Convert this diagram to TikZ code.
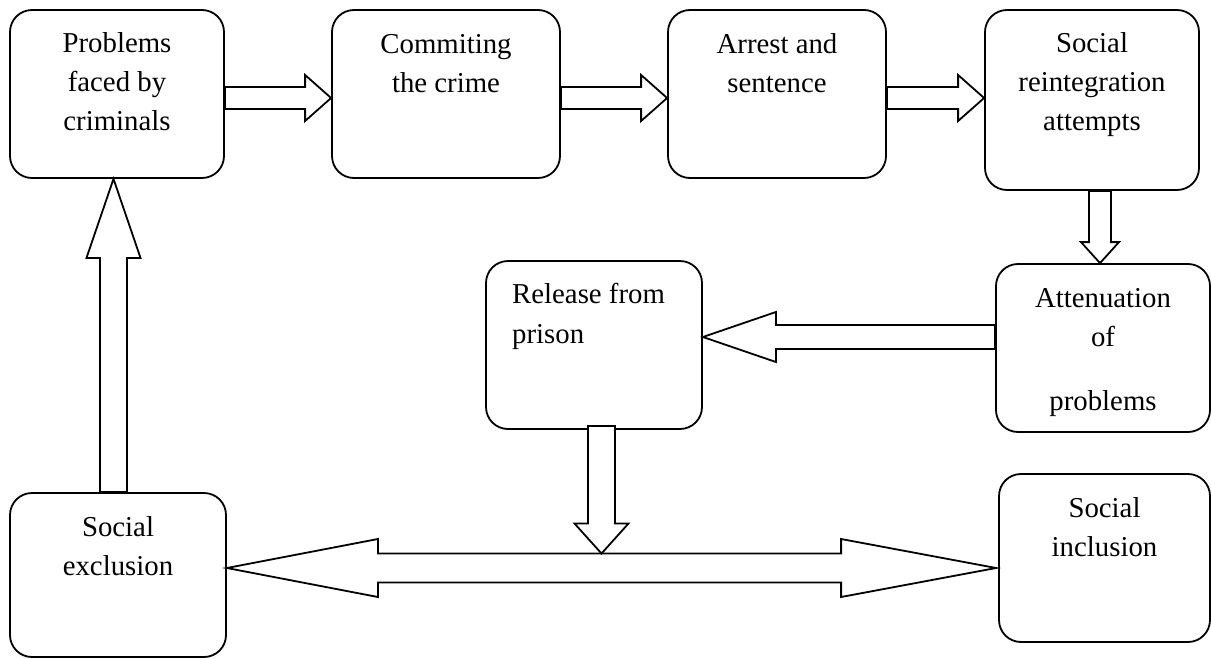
\documentclass[tikz,border=0pt]{standalone}
\usepackage{fontspec}
\setmainfont{Liberation Serif}
\usetikzlibrary{calc}
\tikzset{
  box/.style={draw, line width=1.8pt, rounded corners=22pt, inner sep=0pt},
  lbl/.style={font=\fontsize{28.8}{38.8}\selectfont, align=center, inner sep=0pt, anchor=base},
  lbll/.style={font=\fontsize{28.8}{40}\selectfont, align=left, inner sep=0pt, anchor=base west},
  barrow/.style={draw, fill=white, line width=1.8pt, line join=miter},
}
% tail, tip, shaft half width, head half width, head length
\newcommand\blockarrow[5]{%
  \path ($(#2)!#5!(#1)$) coordinate (ba-h);
  \draw[barrow] ($(#1)!#3!90:(#2)$) -- ($(ba-h)!#3!90:(#2)$) -- ($(ba-h)!#4!90:(#2)$)
    -- (#2) -- ($(ba-h)!#4!-90:(#2)$) -- ($(ba-h)!#3!-90:(#2)$) -- ($(#1)!#3!-90:(#2)$) -- cycle;
}
\begin{document}
\begin{tikzpicture}[x=1pt,y=-1pt]
\useasboundingbox (0,0) rectangle (1211,659);
% boxes
\node[box, minimum width=214pt, minimum height=168pt] (b1) at (117,94) {};
\node[box, minimum width=228pt, minimum height=168pt] (b2) at (446,94) {};
\node[box, minimum width=218pt, minimum height=168pt] (b3) at (777,94) {};
\node[box, minimum width=214pt, minimum height=180pt] (b4) at (1092,100) {};
\node[box, minimum width=214pt, minimum height=168pt] (att) at (1103,348) {};
\node[box, minimum width=216pt, minimum height=168pt] (rel) at (594,345) {};
\node[box, minimum width=216pt, minimum height=164pt] (exc) at (118,575) {};
\node[box, minimum width=211pt, minimum height=168pt] (inc) at (1104.5,558) {};
% texts (anchor = baseline of last line)
\node[lbl] (t1) at (117,130) {Problems\\faced by\\criminals};
\node[lbl] (t2) at (446,92) {Commiting\\the crime};
\node[lbl] (t3) at (777,92) {Arrest and\\sentence};
\node[lbl] (t4) at (1092,130) {Social\\reintegration\\attempts};
\node[lbl] (t5) at (1103,410) {Attenuation\\of\\[25pt]problems};
\node[lbll] (t6) at (512,343) {Release from\\prison};
\node[lbl] (t7) at (118,575) {Social\\exclusion};
\node[lbl] (t8) at (1104.5,556) {Social\\inclusion};
% top arrows
\coordinate (a1s) at ($(b1.east)+(0,4)$);
\coordinate (a1e) at (a1s -| b2.west);
\blockarrow{a1s}{a1e}{11pt}{23pt}{26pt}
\coordinate (a2s) at ($(b2.east)+(0,4)$);
\coordinate (a2e) at (a2s -| b3.west);
\blockarrow{a2s}{a2e}{11pt}{23pt}{26pt}
\coordinate (a3s) at ($(b3.east)+(0,4)$);
\coordinate (a3e) at (a3s -| b4.west);
\blockarrow{a3s}{a3e}{11pt}{23pt}{26pt}
% down to attenuation
\coordinate (d1s) at ($(b4.south)+(8,0)$);
\coordinate (d1e) at (d1s |- att.north);
\blockarrow{d1s}{d1e}{11pt}{19pt}{21pt}
% left to release
\coordinate (l1s) at ($(att.west)+(0,-11)$);
\coordinate (l1e) at (l1s -| rel.east);
\blockarrow{l1s}{l1e}{12pt}{25pt}{73pt}
% up to problems
\coordinate (u1s) at ($(exc.north)+(-4.5,0)$);
\coordinate (u1e) at (u1s |- b1.south);
\blockarrow{u1s}{u1e}{13.5pt}{27pt}{79pt}
% double arrow
\coordinate (dl) at ($(exc.east)+(0,-7)$);
\coordinate (dr) at ($(dl -| inc.west)+(-2,0)$);
\draw[barrow] (dl) -- ($(dl)+(151,-29)$) -- ($(dl)+(151,-14.5)$) -- ($(dr)+(-155,-14.5)$)
  -- ($(dr)+(-155,-29)$) -- (dr) -- ($(dr)+(-155,29)$) -- ($(dr)+(-155,14.5)$)
  -- ($(dl)+(151,14.5)$) -- ($(dl)+(151,29)$) -- cycle;
% down from release
\coordinate (r1s) at ($(rel.south)+(7.5,-4)$);
\coordinate (r1e) at ($(r1s |- dl)+(0,-14.5)$);
\blockarrow{r1s}{r1e}{13.5pt}{27pt}{30pt}
\end{tikzpicture}
\end{document}
